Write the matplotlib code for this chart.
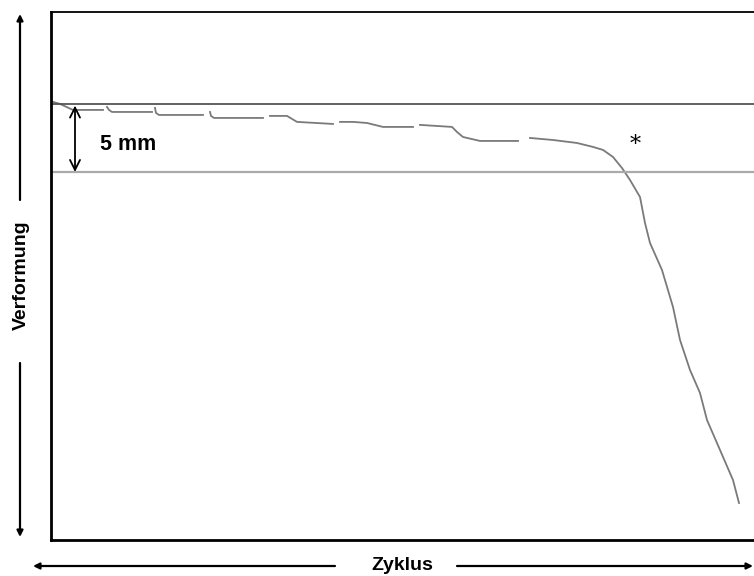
import matplotlib.pyplot as plt
from matplotlib.patches import FancyArrowPatch
import numpy as np

plt.rcParams['font.family'] = ['Liberation Sans', 'DejaVu Sans']

# deformation curve, broken into the recorded pieces (nan = gap)
zyklus = [2, 9, 22, 52, np.nan,
          56, 58, 61, 101, np.nan,
          104, 105, 108, 152, np.nan,
          159, 160, 163, 212, np.nan,
          219, 236, 246, 282, np.nan,
          289, 302, 316, 332, 362, np.nan,
          369, 401, 406, 412, 429, 467, np.nan,
          479, 502, 526, 542, 552, 562, 571, 579, 589, 594, 599, 611, 622,
          629, 639, 649, 656, 669, 682, 688]
verformung = [-0.15, 0.0, 0.44, 0.44, np.nan,
              0.22, 0.44, 0.59, 0.59, np.nan,
              0.29, 0.66, 0.81, 0.81, np.nan,
              0.59, 0.88, 1.03, 1.03, np.nan,
              0.88, 0.88, 1.32, 1.47, np.nan,
              1.32, 1.32, 1.40, 1.69, 1.69, np.nan,
              1.54, 1.69, 2.06, 2.43, 2.72, 2.72, np.nan,
              2.50, 2.65, 2.87, 3.16, 3.38, 3.90, 4.71, 5.59, 6.84, 8.75,
              10.22, 12.21, 14.93, 17.35, 19.56, 21.25, 23.24, 25.44, 27.65,
              29.34]
grenze_mm = 5

fig = plt.figure(figsize=(7.54, 5.76), dpi=100)
ax = fig.add_axes([51 / 754, 36 / 576, 703 / 754, 528 / 576])

ax.plot(zyklus, verformung, color='#7a7a7a', linewidth=1.3)
ax.axhline(0, color='#555555', linewidth=1.3)
ax.axhline(grenze_mm, color='#aaaaaa', linewidth=1.6)

ax.annotate('', xy=(24, 0.12), xytext=(24, grenze_mm),
            arrowprops=dict(arrowstyle='<->', color='black', lw=1.3,
                            mutation_scale=18, shrinkA=0, shrinkB=0))
ax.text(49, 3.0, '5 mm', fontsize=15.5, fontweight='bold', va='center')
ax.text(584, 3.0, '*', fontsize=16, family='DejaVu Serif',
        ha='center', va='center')

ax.set_xlim(0, 703)
ax.set_ylim(32.06, -6.76)
ax.set_xticks([])
ax.set_yticks([])
ax.spines['right'].set_visible(False)
ax.spines['left'].set_linewidth(2.0)
ax.spines['bottom'].set_linewidth(2.0)
ax.spines['top'].set_linewidth(1.3)


# axis captions with arrows, in figure pixels
def px(x, y):
    return (x / 754, 1 - y / 576)


arrow = dict(arrowstyle='-|>', color='black', lw=1.6, mutation_scale=9,
             shrinkA=0, shrinkB=0, transform=fig.transFigure)
fig.text(*px(21, 275), 'Verformung', rotation=90, fontsize=14,
         fontweight='bold', ha='center', va='center')
fig.add_artist(FancyArrowPatch(px(20, 200), px(20, 14), **arrow))
fig.add_artist(FancyArrowPatch(px(20, 363), px(20, 537), **arrow))

fig.text(*px(402, 565), 'Zyklus', fontsize=14, fontweight='bold',
         ha='center', va='center')
fig.add_artist(FancyArrowPatch(px(335, 566), px(33, 566), **arrow))
fig.add_artist(FancyArrowPatch(px(457, 566), px(753, 566), **arrow))

fig.savefig('out.png', dpi=100)
